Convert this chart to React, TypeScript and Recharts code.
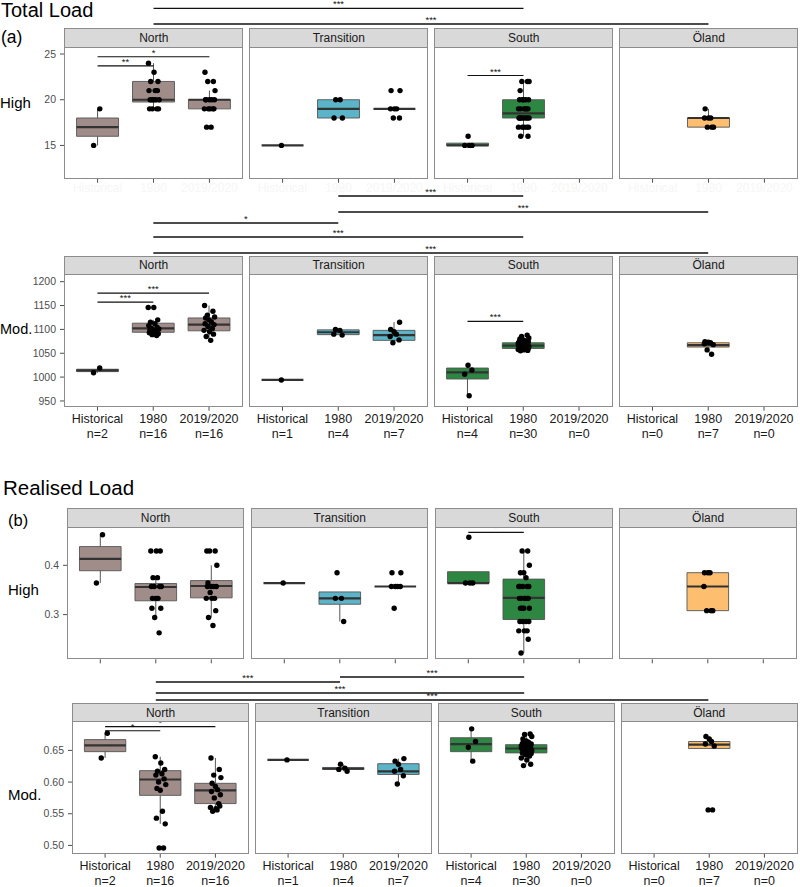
import React from "react";
import { ComposedChart, XAxis, YAxis, Scatter, ReferenceArea, ReferenceLine } from "recharts";

const FONT = '"Liberation Sans", Arial, Helvetica, sans-serif';

const REGIONS = ["North", "Transition", "South", "Öland"];
const GROUPS = ["Historical", "1980", "2019/2020"];
const SAMPLE_SIZES = [
  [2, 16, 16],
  [1, 4, 7],
  [4, 30, 0],
  [0, 7, 0],
];
const REGION_FILLS = ["#a08d89", "#5bb4c7", "#2e8643", "#fdbe6f"];

// ---- (a) Total load, High ----
const TL_HIGH_POINTS = [
  [[19, 15], [24, 23, 22, 22, 21, 21, 21, 20, 20, 20, 20, 20, 19, 19, 19, 19], [23, 22, 22, 21, 20, 20, 20, 20, 20, 19, 19, 19, 19, 19, 17, 17]],
  [[15], [20, 20, 18, 18], [21, 21, 19, 19, 19, 18, 18]],
  [[16, 15, 15, 15], [22, 22, 22, 21, 20, 20, 20, 20, 20, 19, 19, 19, 19, 19, 19, 18, 18, 18, 18, 18, 18, 18, 18, 17, 17, 17, 17, 17, 16, 16], []],
  [[], [19, 18, 18, 18, 17, 17, 17], []],
];
// [lower whisker, q1, median, q3, upper whisker]
const TL_HIGH_BOXES = [
  [[15, 16, 17, 18, 19], [19, 19.75, 20, 22, 24], [19, 19, 20, 20, 21]],
  [[15, 15, 15, 15, 15], [18, 18, 19, 20, 20], [19, 19, 19, 19, 19]],
  [[15, 15, 15, 15.25, 15.25], [16, 18, 18.5, 20, 22], null],
  [null, [17, 17, 18, 18, 19], null],
];
const TL_HIGH_SIG = [
  { panel: 0, from: 0, to: 1, y: 23.7, label: "**" },
  { panel: 0, from: 0, to: 2, y: 24.7, label: "*" },
  { panel: 2, from: 0, to: 1, y: 22.65, label: "***" },
];
const TL_HIGH_CROSS = [
  { from: [0, 1], to: [2, 1], h: 20, label: "***" },
  { from: [0, 1], to: [3, 1], h: 4.3, label: "***" },
];

// ---- (a) Total load, Mod. ----
const TL_MOD_POINTS = [
  [[1019, 1009], [1146, 1146, 1120, 1115, 1112, 1108, 1104, 1102, 1101, 1099, 1097, 1095, 1093, 1091, 1089, 1087], [1150, 1138, 1130, 1126, 1124, 1120, 1116, 1112, 1110, 1106, 1102, 1098, 1095, 1090, 1085, 1077]],
  [[994], [1100, 1098, 1090, 1088], [1115, 1100, 1095, 1090, 1085, 1078, 1072]],
  [[1025, 1015, 1006, 961], [1088, 1085, 1082, 1080, 1078, 1076, 1075, 1074, 1073, 1072, 1071, 1070, 1069, 1068, 1067, 1066, 1066, 1065, 1064, 1063, 1063, 1062, 1061, 1060, 1060, 1059, 1058, 1057, 1056, 1055], []],
  [[], [1074, 1073, 1072, 1070, 1068, 1057, 1048], []],
];
const TL_MOD_BOXES = [
  [[1009, 1011.5, 1014, 1016.5, 1019], [1087, 1094, 1102, 1113, 1120], [1077, 1097, 1110, 1124, 1150]],
  [[994, 994, 994, 994, 994], [1088, 1089, 1094, 1099, 1100], [1072, 1077, 1088, 1098, 1115]],
  [[961, 996, 1010, 1019, 1025], [1055, 1060, 1066, 1072, 1088], null],
  [null, [1057, 1063, 1067, 1072, 1074], null],
];
const TL_MOD_SIG = [
  { panel: 0, from: 0, to: 1, y: 1157, label: "***" },
  { panel: 0, from: 0, to: 2, y: 1176, label: "***" },
  { panel: 2, from: 0, to: 1, y: 1117, label: "***" },
];
const TL_MOD_CROSS = [
  { from: [1, 1], to: [2, 1], h: 59.7, label: "***" },
  { from: [1, 1], to: [3, 1], h: 43.7, label: "***" },
  { from: [0, 1], to: [1, 1], h: 32.7, label: "*" },
  { from: [0, 1], to: [2, 1], h: 18.7, label: "***" },
  { from: [0, 1], to: [3, 1], h: 2.7, label: "***" },
];

// ---- (b) Realised load, High ----
const RL_HIGH_POINTS = [
  [[0.462, 0.364], [0.429, 0.429, 0.429, 0.375, 0.375, 0.357, 0.357, 0.357, 0.357, 0.333, 0.333, 0.333, 0.313, 0.313, 0.294, 0.263], [0.429, 0.429, 0.429, 0.4, 0.364, 0.357, 0.357, 0.357, 0.357, 0.345, 0.333, 0.333, 0.333, 0.308, 0.294, 0.278]],
  [[0.364], [0.385, 0.333, 0.333, 0.286], [0.385, 0.385, 0.357, 0.357, 0.357, 0.357, 0.313]],
  [[0.457, 0.364, 0.364, 0.364], [0.429, 0.429, 0.4, 0.385, 0.385, 0.375, 0.357, 0.357, 0.357, 0.357, 0.357, 0.333, 0.333, 0.333, 0.333, 0.333, 0.333, 0.313, 0.313, 0.313, 0.313, 0.286, 0.286, 0.286, 0.286, 0.267, 0.267, 0.267, 0.25, 0.222], []],
  [[], [0.385, 0.385, 0.385, 0.357, 0.308, 0.308, 0.308], []],
];
const RL_HIGH_BOXES = [
  [[0.364, 0.389, 0.413, 0.438, 0.462], [0.294, 0.328, 0.356, 0.363, 0.375], [0.294, 0.334, 0.358, 0.369, 0.4]],
  [[0.364, 0.364, 0.364, 0.364, 0.364], [0.286, 0.321, 0.333, 0.346, 0.346], [0.357, 0.357, 0.357, 0.357, 0.357]],
  [[0.364, 0.364, 0.364, 0.387, 0.387], [0.222, 0.29, 0.334, 0.372, 0.429], null],
  [null, [0.308, 0.308, 0.357, 0.385, 0.385], null],
];
const RL_HIGH_SIG = [{ panel: 2, from: 0, to: 1, y: 0.467, label: "*" }];

// ---- (b) Realised load, Mod. ----
const RL_MOD_POINTS = [
  [[0.677, 0.638], [0.64, 0.63, 0.62, 0.617, 0.613, 0.611, 0.605, 0.6, 0.596, 0.59, 0.587, 0.554, 0.543, 0.534, 0.496, 0.496], [0.638, 0.62, 0.611, 0.607, 0.598, 0.593, 0.588, 0.585, 0.58, 0.575, 0.566, 0.56, 0.558, 0.562, 0.554, 0.556]],
  [[0.635], [0.628, 0.622, 0.62, 0.617], [0.637, 0.633, 0.628, 0.62, 0.617, 0.61, 0.597]],
  [[0.684, 0.664, 0.655, 0.633], [0.676, 0.675, 0.672, 0.668, 0.665, 0.663, 0.661, 0.66, 0.659, 0.658, 0.657, 0.656, 0.655, 0.654, 0.653, 0.653, 0.652, 0.651, 0.65, 0.649, 0.648, 0.647, 0.646, 0.645, 0.643, 0.641, 0.638, 0.635, 0.628, 0.626], []],
  [[], [0.672, 0.668, 0.664, 0.66, 0.657, 0.556, 0.556], []],
];
const RL_MOD_BOXES = [
  [[0.638, 0.648, 0.658, 0.667, 0.677], [0.534, 0.579, 0.604, 0.618, 0.64], [0.554, 0.566, 0.587, 0.598, 0.638]],
  [[0.635, 0.635, 0.635, 0.635, 0.635], [0.617, 0.62, 0.621, 0.623, 0.628], [0.597, 0.612, 0.617, 0.629, 0.637]],
  [[0.633, 0.648, 0.66, 0.67, 0.684], [0.628, 0.646, 0.653, 0.659, 0.676], null],
  [null, [0.653, 0.653, 0.659, 0.664, 0.672], null],
];
const RL_MOD_SIG = [
  { panel: 0, from: 0, to: 1, y: 0.681, label: "*" },
  { panel: 0, from: 0, to: 2, y: 0.6875, label: "*" },
];
const RL_MOD_CROSS = [
  { from: [1, 1], to: [2, 1], h: 26.3, label: "***" },
  { from: [0, 1], to: [1, 1], h: 21.3, label: "***" },
  { from: [0, 1], to: [2, 1], h: 10.3, label: "***" },
  { from: [0, 1], to: [3, 1], h: 3.3, label: "***" },
];

// jitter offsets (in category units) used to spread overlapping points
const JITTER = [0.04, -0.07, 0.09, -0.02, 0.06, -0.09, 0.01, 0.08, -0.05, 0.03, -0.08, 0.07, -0.03, 0.1, -0.06, 0.0];

const Y_AXIS_W = 44;
const X_AXIS_H = 40;
const BOX_HALF = 0.375;

type Sig = { panel: number; from: number; to: number; y: number; label: string };
type Cross = { from: number[]; to: number[]; h: number; label: string };
type Row = {
  left: number;
  pw: number;
  step: number;
  stripTop: number;
  stripH: number;
  plotH: number;
  domain: [number, number];
  ticks: number[];
  fmt: (v: number) => string;
  points: number[][][];
  boxes: (number[] | null)[][];
  sig: Sig[];
  xLabels: "none" | "faint" | "full";
};

const ROWS: Row[] = [
  { left: 64.3, pw: 179, step: 185, stripTop: 28.3, stripH: 20, plotH: 130.7, domain: [11.36, 25.66], ticks: [15, 20, 25], fmt: (v) => String(v), points: TL_HIGH_POINTS, boxes: TL_HIGH_BOXES, sig: TL_HIGH_SIG, xLabels: "faint" },
  { left: 64.3, pw: 178.5, step: 185, stripTop: 255.7, stripH: 19.3, plotH: 131.7, domain: [938, 1214], ticks: [950, 1000, 1050, 1100, 1150, 1200], fmt: (v) => String(v), points: TL_MOD_POINTS, boxes: TL_MOD_BOXES, sig: TL_MOD_SIG, xLabels: "full" },
  { left: 66.7, pw: 177.6, step: 184.2, stripTop: 508.3, stripH: 19.4, plotH: 131.3, domain: [0.2093, 0.4757], ticks: [0.3, 0.4], fmt: (v) => v.toFixed(1), points: RL_HIGH_POINTS, boxes: RL_HIGH_BOXES, sig: RL_HIGH_SIG, xLabels: "none" },
  { left: 72.3, pw: 176.5, step: 182.9, stripTop: 703.3, stripH: 19, plotH: 131.7, domain: [0.4869, 0.6948], ticks: [0.5, 0.55, 0.6, 0.65], fmt: (v) => v.toFixed(2), points: RL_MOD_POINTS, boxes: RL_MOD_BOXES, sig: RL_MOD_SIG, xLabels: "full" },
];

const OVERLAYS = [
  { geom: 0, top: 0, height: 28.3, bars: TL_HIGH_CROSS },
  { geom: 1, top: 178, height: 77.7, bars: TL_MOD_CROSS },
  { geom: 2, top: 662, height: 41.3, bars: RL_MOD_CROSS },
];

const TEXTS = [
  { text: "Total Load", x: 1, baseline: 17, size: 20 },
  { text: "(a)", x: 1, baseline: 44, size: 17.5 },
  { text: "High", x: 0, baseline: 107.5, size: 15 },
  { text: "Mod.", x: 0, baseline: 334, size: 14.5 },
  { text: "Realised Load", x: 3, baseline: 495, size: 20.5 },
  { text: "(b)", x: 8, baseline: 526, size: 16.5 },
  { text: "High", x: 8, baseline: 594.5, size: 15 },
  { text: "Mod.", x: 8, baseline: 800, size: 15 },
];

const sigText = (props: any) => {
  const { cx, cy, payload } = props;
  if (cx == null || cy == null) return <g />;
  return (
    <text x={cx} y={cy - 1} textAnchor="middle" fontSize={9.5} fontFamily={FONT} fill="#111">
      {payload.label}
    </text>
  );
};

const dot = (props: any) => {
  const { cx, cy } = props;
  if (cx == null || cy == null) return <g />;
  return <circle cx={cx} cy={cy} r={2.7} fill="#000" />;
};

function makeTick(mode: Row["xLabels"], p: number) {
  return (props: any) => {
    const { x, y, payload } = props;
    const g = payload.value as number;
    if (mode === "none") return <g />;
    if (mode === "faint") {
      return (
        <text x={x} y={y + 7} textAnchor="middle" fontSize={12} fontFamily={FONT} fill="#f6f6f6">
          {GROUPS[g]}
        </text>
      );
    }
    return (
      <g>
        <text x={x} y={y + 10.5} textAnchor="middle" fontSize={12.5} fontFamily={FONT} fill="#1a1a1a">
          {GROUPS[g]}
        </text>
        <text x={x} y={y + 25} textAnchor="middle" fontSize={12.5} fontFamily={FONT} fill="#1a1a1a">
          {`n=${SAMPLE_SIZES[p][g]}`}
        </text>
      </g>
    );
  };
}

function Panel({ row, p }: { row: Row; p: number }) {
  const first = p === 0;
  const yW = first ? Y_AXIS_W : 0;
  const left = row.left + p * row.step;
  const plotTop = row.stripTop + row.stripH;

  const pts: { x: number; y: number }[] = [];
  row.points[p].forEach((vals, g) =>
    vals.forEach((v, k) => pts.push({ x: g + JITTER[(k + g * 5 + p * 3) % JITTER.length], y: v }))
  );
  const sigs = row.sig.filter((s) => s.panel === p);
  const sigLabels = sigs.map((s) => ({ x: (s.from + s.to) / 2, y: s.y, label: s.label }));

  return (
    <>
      <div
        style={{
          position: "absolute",
          left,
          top: row.stripTop,
          width: row.pw,
          height: row.stripH,
          background: "#d9d9d9",
          border: "1px solid #8c8c8c",
          boxSizing: "border-box",
          display: "flex",
          alignItems: "center",
          justifyContent: "center",
          fontFamily: FONT,
          fontSize: 12,
          color: "#1a1a1a",
        }}
      >
        {REGIONS[p]}
      </div>
      <div style={{ position: "absolute", left: left - yW, top: plotTop }}>
        <ComposedChart width={row.pw + yW} height={row.plotH + X_AXIS_H} margin={{ top: 0, right: 0, bottom: 0, left: 0 }}>
          <XAxis
            type="number"
            dataKey="x"
            domain={[-0.6, 2.6]}
            ticks={[0, 1, 2]}
            allowDataOverflow
            height={X_AXIS_H}
            axisLine={false}
            tickLine={{ stroke: "#4d4d4d" }}
            tickSize={4}
            tick={makeTick(row.xLabels, p)}
            interval={0}
          />
          <YAxis
            type="number"
            dataKey="y"
            domain={row.domain}
            ticks={row.ticks}
            allowDataOverflow
            hide={!first}
            width={Y_AXIS_W}
            axisLine={false}
            tickLine={{ stroke: "#4d4d4d" }}
            tickSize={4}
            tickMargin={4}
            tickFormatter={row.fmt}
            tick={{ fill: "#4d4d4d", fontSize: 10.5, fontFamily: FONT }}
            interval={0}
          />
          {row.boxes[p].map((b, g) =>
            b ? (
              <ReferenceArea
                key={`box-${g}`}
                x1={g - BOX_HALF}
                x2={g + BOX_HALF}
                y1={b[1]}
                y2={b[3]}
                fill={REGION_FILLS[p]}
                fillOpacity={1}
                stroke="#555"
                strokeWidth={0.9}
              />
            ) : null
          )}
          {row.boxes[p].map((b, g) =>
            b ? (
              <ReferenceLine key={`wu-${g}`} segment={[{ x: g, y: b[3] }, { x: g, y: b[4] }]} stroke="#555" strokeWidth={1} />
            ) : null
          )}
          {row.boxes[p].map((b, g) =>
            b ? (
              <ReferenceLine key={`wl-${g}`} segment={[{ x: g, y: b[0] }, { x: g, y: b[1] }]} stroke="#555" strokeWidth={1} />
            ) : null
          )}
          {row.boxes[p].map((b, g) =>
            b ? (
              <ReferenceLine
                key={`med-${g}`}
                segment={[{ x: g - BOX_HALF, y: b[2] }, { x: g + BOX_HALF, y: b[2] }]}
                stroke="#333"
                strokeWidth={2.2}
              />
            ) : null
          )}
          {sigs.map((s, i) => (
            <ReferenceLine key={`sig-${i}`} segment={[{ x: s.from, y: s.y }, { x: s.to, y: s.y }]} stroke="#111" strokeWidth={1.2} />
          ))}
          <Scatter data={pts} shape={dot} isAnimationActive={false} />
          <Scatter data={sigLabels} shape={sigText} isAnimationActive={false} />
        </ComposedChart>
      </div>
      <div
        style={{
          position: "absolute",
          left,
          top: plotTop - 1,
          width: row.pw,
          height: row.plotH + 1,
          border: "1px solid #8c8c8c",
          boxSizing: "border-box",
          pointerEvents: "none",
        }}
      />
    </>
  );
}

function CrossSig({ geom, top, height, bars }: { geom: Row; top: number; height: number; bars: Cross[] }) {
  const width = geom.step * 3 + geom.pw;
  const unit = 3.2 / geom.pw;
  const xMax = width * unit;
  const gx = (pg: number[]) => pg[0] * geom.step * unit + 0.6 + pg[1];
  const labels = bars.map((b) => ({ x: (gx(b.from) + gx(b.to)) / 2, y: b.h, label: b.label }));
  return (
    <div style={{ position: "absolute", left: geom.left, top }}>
      <ComposedChart width={width} height={height} margin={{ top: 0, right: 0, bottom: 0, left: 0 }}>
        <XAxis type="number" dataKey="x" domain={[0, xMax]} allowDataOverflow hide />
        <YAxis type="number" dataKey="y" domain={[0, height]} allowDataOverflow hide />
        {bars.map((b, i) => (
          <ReferenceLine
            key={i}
            segment={[{ x: gx(b.from), y: b.h }, { x: gx(b.to), y: b.h }]}
            stroke="#111"
            strokeWidth={1.3}
          />
        ))}
        <Scatter data={labels} shape={sigText} isAnimationActive={false} />
      </ComposedChart>
    </div>
  );
}

export default function App() {
  return (
    <div style={{ position: "absolute", left: 0, top: 0, width: 800, height: 887, background: "#fff", overflow: "hidden" }}>
      <style>{"svg.recharts-surface { overflow: visible; }"}</style>
      {ROWS.map((row, r) => (
        <React.Fragment key={r}>
          {REGIONS.map((_, p) => (
            <Panel key={p} row={row} p={p} />
          ))}
        </React.Fragment>
      ))}
      {OVERLAYS.map((o, i) => (
        <CrossSig key={i} geom={ROWS[o.geom]} top={o.top} height={o.height} bars={o.bars} />
      ))}
      {TEXTS.map((t, i) => (
        <div
          key={i}
          style={{
            position: "absolute",
            left: t.x,
            top: t.baseline - 0.85 * t.size,
            fontFamily: FONT,
            fontSize: t.size,
            lineHeight: 1,
            color: "#000",
            whiteSpace: "nowrap",
          }}
        >
          {t.text}
        </div>
      ))}
    </div>
  );
}
